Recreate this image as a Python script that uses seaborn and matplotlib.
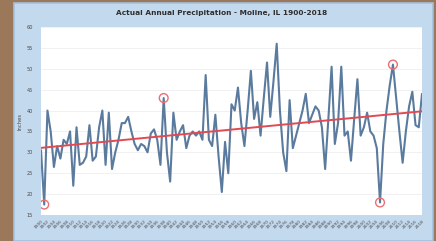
import matplotlib
matplotlib.use("Agg")
import matplotlib.pyplot as plt
import seaborn as sns
import numpy as np
import pandas as pd
from matplotlib.patches import Rectangle

years = list(range(1900, 2019))
precip = [
    30.5, 17.5, 40.0, 35.0, 26.5, 31.5, 28.5, 33.0, 32.0, 35.0,
    22.0, 36.0, 27.0, 27.5, 29.0, 36.5, 28.0, 29.0, 36.0, 40.0,
    27.0, 39.5, 26.0, 30.0, 33.0, 37.0, 37.0, 38.5, 35.0, 32.0,
    30.5, 32.0, 31.5, 30.0, 34.5, 35.5, 33.0, 27.0, 43.0, 30.0,
    23.0, 39.5, 33.0, 35.0, 36.5, 31.0, 34.0, 35.0, 34.0, 35.0,
    33.0, 48.5, 33.0, 31.5, 39.0, 29.0, 20.5, 32.5, 25.0, 41.5,
    40.0, 45.5, 37.0, 31.5, 40.0, 49.5, 38.0, 42.0, 34.0, 43.0,
    51.5, 38.5, 47.0, 56.0, 40.0, 30.0, 25.5, 42.5, 31.0, 34.0,
    37.0, 40.0, 44.0, 37.0, 39.0, 41.0, 40.0, 36.0, 26.0, 38.0,
    50.5, 32.0, 37.0, 50.5, 34.0, 35.0, 28.0, 38.0, 47.5, 34.0,
    36.0, 39.5, 35.0, 34.0, 31.0, 18.0, 32.0, 40.0, 46.0, 51.0,
    43.0, 35.0, 27.5, 35.0, 41.0, 44.5, 36.5, 36.0, 44.0,
]
highlight_years = [1901, 1938, 2005, 2009]
tick_years = list(range(1900, 2019, 2))
y_ticks = [15, 20, 25, 30, 35, 40, 45, 50, 55, 60]

df = pd.DataFrame({"Year": years, "Inches": precip})
hl = df[df["Year"].isin(highlight_years)]

sns.set_style("white")
fig = plt.figure(figsize=(4.36, 2.41), dpi=100)
fig.patch.set_facecolor("#9b7859")
fig.patches.append(Rectangle((14/436, 0), (433-14)/436, 1-3/241, transform=fig.transFigure,
                             facecolor="#c3d9ee", edgecolor="#a3c0dc", lw=1.2, zorder=-10))

ax = fig.add_axes([41/436, 1-215/241, (422-41)/436, (215-27)/241])
ax.set_zorder(1)
ax.set_facecolor("white")

for yv in y_ticks:
    ax.axhline(yv, color="#ececec", lw=0.5, zorder=0)

sns.lineplot(data=df, x="Year", y="Inches", ax=ax, color="#5a7b9e", lw=1.5, zorder=3)
sns.regplot(data=df, x="Year", y="Inches", ax=ax, scatter=False, ci=None, truncate=True,
            line_kws={"color": "#e04b53", "lw": 1.4, "zorder": 4})
ax.scatter(hl["Year"], hl["Inches"], s=40, facecolors="none", edgecolors="#ee6d73",
           linewidths=1.0, zorder=5)

ax.set_xlim(1900, 2018)
ax.set_ylim(15, 60)
ax.set_yticks(y_ticks)
ax.set_yticklabels([str(v) for v in y_ticks], fontsize=3.6, color="#4a4a4a")
ax.set_xticks(tick_years)
ax.set_xticklabels([str(v) for v in tick_years], fontsize=3.2, color="#4a4a4a",
                   rotation=45, ha="right", rotation_mode="anchor")
ax.tick_params(axis="y", length=0, pad=6)
ax.tick_params(axis="x", length=0, pad=3)
ax.set_xlabel("")
ax.set_ylabel("Inches", fontsize=3.8, color="#4a4a4a", labelpad=3)
for s in ax.spines.values():
    s.set_visible(False)

fig.text(222/436, 1-13/241, "Actual Annual Precipitation - Moline, IL 1900-2018",
         ha="center", va="center", fontsize=5.3, fontweight="bold", color="#2e2e2e")

fig.savefig("out.png", dpi=100, facecolor=fig.get_facecolor())
